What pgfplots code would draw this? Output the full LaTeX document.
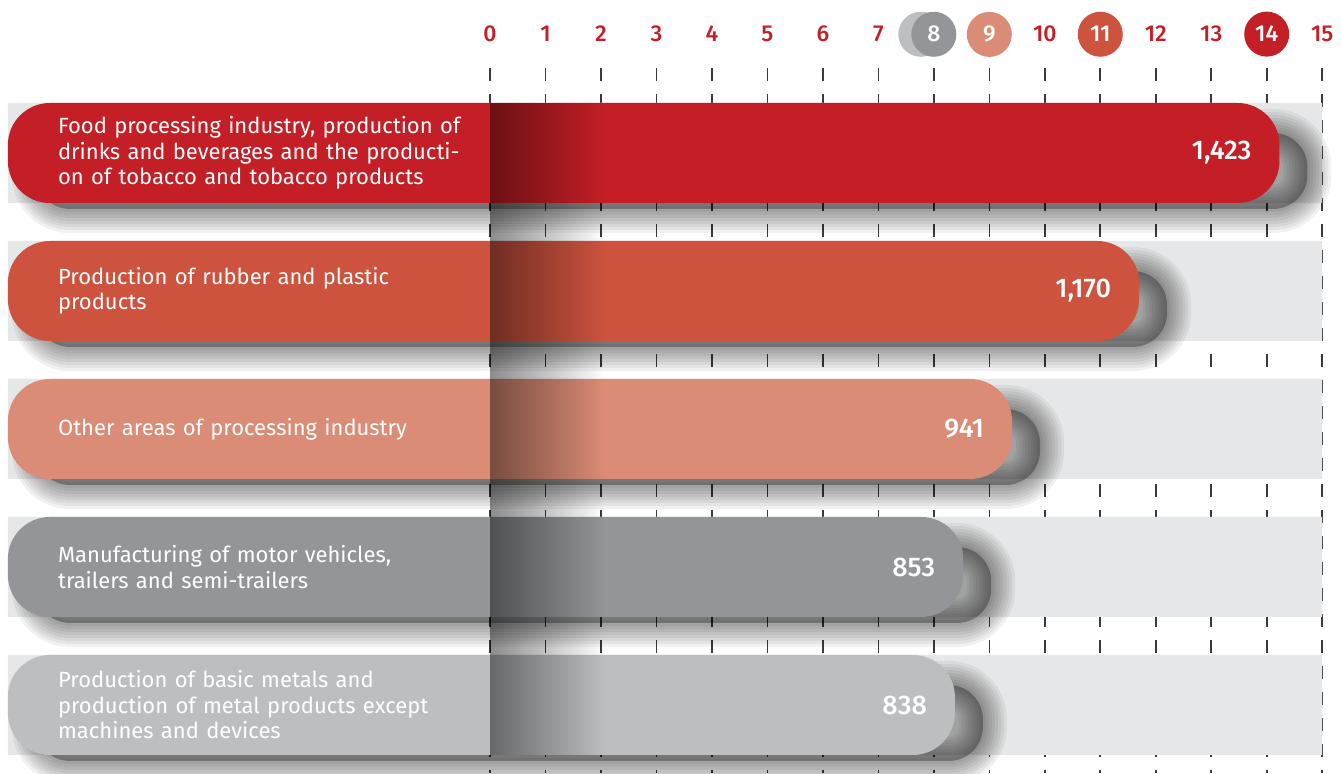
\documentclass[border=0pt]{standalone}
\usepackage{pgfplots}
\pgfplotsset{compat=1.18}
\usepackage{fontspec}
\setmainfont{Fira Sans}
\newfontfamily\medfont{Fira Sans Medium}
\usetikzlibrary{fadings}

\definecolor{barA}{HTML}{C41F26}
\definecolor{barB}{HTML}{CD533F}
\definecolor{barC}{HTML}{DB8C76}
\definecolor{barD}{HTML}{939598}
\definecolor{barE}{HTML}{BCBEC0}
\definecolor{band}{HTML}{E6E7E8}
\definecolor{gridc}{HTML}{3A3A3A}

\pgfplotsset{
  % tick labels above the plots, grid below
  layers/toplabels/.define layer set={axis background,axis grid,axis ticks,axis lines,pre main,main,axis tick labels,axis descriptions,axis foreground}{
    grid style={/pgfplots/on layer=axis grid},
    tick style={/pgfplots/on layer=axis ticks},
    axis line style={/pgfplots/on layer=axis lines},
    label style={/pgfplots/on layer=axis descriptions},
    ticklabel style={/pgfplots/on layer=axis tick labels},
    axis background@ style={/pgfplots/on layer=axis background},
  },
  bbase/.style={xbar, bar shift=0pt, bar width=0.7246},
  rbar/.style={bbase, draw=none, fill=#1, rounded corners=21pt,
    point meta=explicit symbolic, nodes near coords,
    every node near coord/.append style={anchor=east, xshift=-10.5pt, text=white,
      font=\medfont\fontsize{13.5}{15}\selectfont}},
  shad/.style={xbar, bar shift=0pt, bar width=0.55, rounded corners=17pt,
    xshift=14pt, yshift=-9pt, fill=black, fill opacity=0, draw=black, draw opacity=0.055, line width=#1},
}

% circled tick numbers
\newcommand{\cnum}[2]{\tikz[baseline=(n.base)]\node[anchor=center,circle,fill=#1,text=white,inner sep=0pt,minimum size=22.5pt](n) at (0,0){#2};}
\newcommand{\cnumeight}{\tikz[baseline=(n.base)]{\fill[barE,overlay] (-6.5pt,0) circle (11.25pt);
  \node[anchor=center,circle,fill=barD,text=white,inner sep=0pt,minimum size=22.5pt](n) at (0,0){8};}}

\begin{document}
\begin{tikzpicture}
\begin{axis}[
  set layers=toplabels,
  scale only axis,
  width=670.5pt, height=352.5pt,
  xmin=-14.2, xmax=2402.9,
  ymin=-0.6159, ymax=4.4928, y dir=reverse,
  x filter/.expression={x+869},
  axis line style={draw=none},
  major tick length=0pt,
  tick style={draw=none},
  xtick={869,969,...,2369},
  xticklabels={0,1,2,3,4,5,6,7,\cnumeight,\cnum{barC}{9},10,\cnum{barB}{11},12,13,\cnum{barA}{14},15},
  xticklabel pos=upper,
  xticklabel style={anchor=base, text=barA, font=\medfont\fontsize{11.5}{13}\selectfont},
  xticklabel shift=13pt,
  xmajorgrids,
  grid style={gridc, line width=0.8pt, dash pattern=on 6.5pt off 6.5pt},
  ytick={0,1,2,3,4},
  yticklabels={
    {Food processing industry, production of\\drinks and beverages and the producti-\\on of tobacco and tobacco products},
    {Production of rubber and plastic\\products},
    {Other areas of processing industry},
    {Manufacturing of motor vehicles,\\trailers and semi-trailers},
    {Production of basic metals and\\production of metal products except\\machines and devices}},
  yticklabel style={anchor=west, xshift=25.5pt, text width=230pt, align=left, text=white,
    font=\fontsize{11}{12.75}\selectfont},
]
% light background bands up to 15
\addplot[bbase, draw=none, fill=band]
  coordinates {(1500,0) (1500,1) (1500,2) (1500,3) (1500,4)};

% soft drop shadows (stacked translucent outlines around a dark core)
\addplot[shad=24pt] coordinates {(1423,0) (1170,1) (941,2) (853,3) (838,4)};
\addplot[shad=21pt] coordinates {(1423,0) (1170,1) (941,2) (853,3) (838,4)};
\addplot[shad=18pt] coordinates {(1423,0) (1170,1) (941,2) (853,3) (838,4)};
\addplot[shad=15pt] coordinates {(1423,0) (1170,1) (941,2) (853,3) (838,4)};
\addplot[shad=12pt] coordinates {(1423,0) (1170,1) (941,2) (853,3) (838,4)};
\addplot[shad=9pt] coordinates {(1423,0) (1170,1) (941,2) (853,3) (838,4)};
\addplot[shad=6pt] coordinates {(1423,0) (1170,1) (941,2) (853,3) (838,4)};
\addplot[shad=3pt] coordinates {(1423,0) (1170,1) (941,2) (853,3) (838,4)};
\addplot[shad=0pt, draw=none, fill opacity=0.3] coordinates {(1423,0) (1170,1) (941,2) (853,3) (838,4)};

\addplot[rbar=barA] coordinates {(1423,0) [{1,423}]};
\addplot[rbar=barB] coordinates {(1170,1) [{1,170}]};
\addplot[rbar=barC] coordinates {(941,2) [941]};
\addplot[rbar=barD] coordinates {(853,3) [853]};
\addplot[rbar=barE] coordinates {(838,4) [838]};

% dark fade at the zero line
\fill[black, fill opacity=0.45, path fading=east] (axis cs:869,-0.3623) rectangle (axis cs:1076,4.3623);
\end{axis}
\pgfresetboundingbox
\path[use as bounding box] (current axis.south west) rectangle ([yshift=34pt]current axis.north east);
\end{tikzpicture}
\end{document}
